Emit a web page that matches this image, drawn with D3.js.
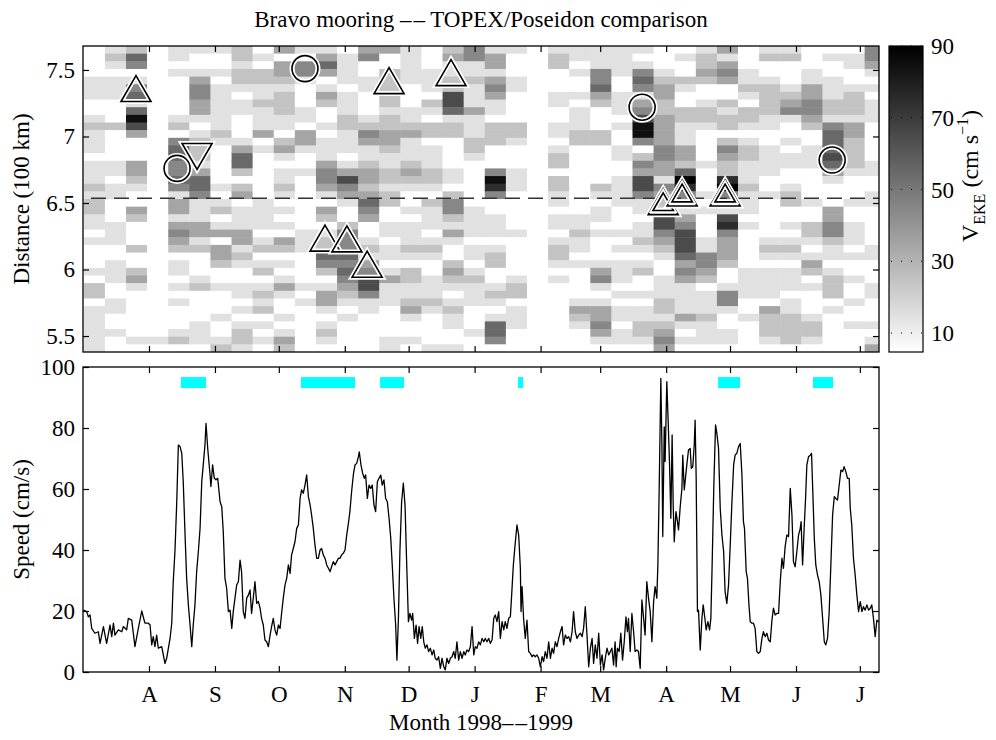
<!DOCTYPE html>
<html>
<head>
<meta charset="utf-8">
<script src="https://cdn.jsdelivr.net/npm/d3@7"></script>
<style>
    body { margin: 0; background: #fff; }
    svg text { font-family: "Liberation Serif", "Times New Roman", serif; fill: #000; }
</style>
</head>
<body>
<div id="chart"></div>
<script>
// record runs from 1 July 1998 to 10 July 1999 (UTC), days counted from the start
var startTime = Date.UTC(1998, 6, 1);
var endTime = Date.UTC(1999, 6, 10);

var distTicks = [5.5, 6, 6.5, 7, 7.5];
var speedTicks = [0, 20, 40, 60, 80, 100];
var ekeTicks = [10, 30, 50, 70, 90];

// TOPEX/Poseidon repeat cycles: one column per cycle
var cycleStartDay = 0.38;
var cycleDays = 9.9156;
// along-track bins, top bin first
var distTop = 7.68;
var distStep = 0.0575;
// one string per cycle, 40 bins top to bottom,
// each digit = V_EKE class in tens of cm/s (0 = below 10, value taken at class centre)
var ekeCols = [
    "0000111001 2111011121 2211010001 0220111111",
    "1210111000 2000011011 0001110011 1001100100",
    "2540145158 6300033210 0320002002 3100000010",
    "0000000000 0000000000 0000000000 0000000010",
    "1101000001 2045544541 3313432011 0101000120",
    "1001344331 0122213554 1113312000 1200001110",
    "1001011111 1210000010 1201303320 0100010012",
    "2212210110 0013552023 0111331210 0110101221",
    "0102211211 1301000000 1111012012 0121201010",
    "3033212221 1023101121 0101032010 1310010132",
    "1044100011 0331001000 0000111000 0101000000",
    "1353013200 1011134431 0320122542 0133101210",
    "0111101112 2111013643 1002444545 4321010000",
    "3400110001 2431123323 5430012134 6641100000",
    "3002222212 2332112212 2001101101 3111000011",
    "1111100011 2311123210 0101112102 2112310010",
    "0001110210 2201112210 2111012100 1112100001",
    "2311226651 2200001102 4421310023 2101211001",
    "4411211131 1122100000 0111101101 2111000100",
    "1331343110 2220004874 0011101220 0121015540",
    "1000110000 2210001110 0000100000 1220111000",
    "0000000000 0000000000 0000000000 0000000000",
    "1220001100 1101220221 1011012210 1000000000",
    "1101001011 1220000000 0011211010 0001321000",
    "1114453200 0220000021 0110100013 4101334310",
    "1111001110 1001100111 1000101011 1010110110",
    "1014541346 8840243664 1101121012 0010112210",
    "0001233223 3334433143 2166432100 1112212343",
    "0100210022 1113325974 2134666534 3111131010",
    "1223200122 1000010001 0100011443 2011121110",
    "3134300212 2024322794 2167433320 0144100110",
    "0001121022 1012211121 1101000001 1110010000",
    "1200122221 1001111001 0000012101 1110322210",
    "1200012341 0010110012 2001012101 1101122220",
    "0001133443 2001110000 1002210132 0100012210",
    "0100111221 4555653100 0334421101 2220100000",
    "0110012221 3322221000 1001110100 1001001000",
    "4431010111 0000011001 1000001100 0110001013"
];

// event markers on the altimeter section
var markerDay = [24.9, 44.2, 53.6, 104.3, 143.8, 172.9, 113.7, 124.0, 133.5, 262.7, 272.6, 281.5, 301.7, 352.0];
var markerDist = [7.36, 6.76, 6.85, 7.51, 7.42, 7.48, 6.236, 6.23, 6.04, 7.22, 6.51, 6.575, 6.575, 6.823];
var markerKind = ["up", "circle", "down", "circle", "up", "up", "up", "up", "up", "circle", "up2", "up2", "up2", "circle"];

// distance of the Bravo mooring along the track
var mooringDist = 6.535;

// periods flagged in cyan, [start day, end day]
var cyanPeriods = [[46.0, 57.8], [102.4, 127.8], [139.6, 150.8], [204.4, 206.8], [298.4, 308.7], [343.0, 352.4]];

// mooring current speed, [day, cm/s]
var speedSeries = [
    [0.2,20.3],[1.7,19.8],[2.5,18.1],[3.3,18.7],[4.1,14.3],[5.6,12.7],[7.2,13.2],[8.0,9.4],[9.6,14.9],[11.1,9.4],
    [12.7,15.4],[13.5,11.6],[14.3,16.0],[15.0,12.1],[16.6,13.8],[18.2,13.2],[19.0,14.9],[20.5,13.8],[21.3,17.6],[22.9,17.0],
    [24.4,8.3],[26.0,14.3],[27.6,20.0],[29.1,16.0],[30.7,16.0],[31.5,15.4],[32.3,8.9],[33.0,11.6],[33.8,8.3],[34.6,12.1],
    [35.4,7.8],[37.0,8.3],[38.5,2.8],[39.3,4.5],[40.9,11.0],[41.7,16.0],[42.4,29.6],[43.2,39.5],[44.0,54.8],[44.8,74.4],
    [45.6,73.9],[46.4,71.7],[47.1,62.4],[47.9,46.0],[48.7,30.7],[49.5,22.0],[50.3,15.4],[51.1,8.3],[51.8,15.4],[52.6,22.0],
    [53.4,32.9],[54.2,39.5],[55.0,47.1],[55.8,62.4],[56.5,67.9],[57.3,74.4],[57.8,81.5],[58.6,73.3],[59.7,64.6],[60.1,60.8],
    [60.9,67.9],[61.7,63.5],[62.5,63.0],[63.3,63.5],[64.4,55.8],[65.2,54.2],[65.9,46.0],[66.7,30.7],[67.5,27.4],[68.3,19.8],
    [69.1,20.3],[69.9,14.3],[70.6,19.8],[71.4,24.2],[72.2,28.5],[73.0,29.6],[73.8,36.7],[74.5,32.9],[75.3,19.8],[76.1,17.6],
    [76.9,24.2],[77.7,25.2],[78.5,26.9],[79.2,19.2],[80.0,24.2],[80.8,29.6],[81.6,22.5],[82.4,23.1],[83.2,20.9],[83.9,17.6],
    [84.7,15.4],[85.5,10.5],[86.3,9.9],[87.1,8.3],[87.9,12.1],[88.6,14.9],[89.4,17.6],[90.2,13.8],[91.0,12.1],[91.8,15.4],
    [92.6,14.3],[93.3,19.2],[94.1,24.2],[94.9,28.5],[95.7,30.7],[96.5,35.1],[97.3,32.3],[98.0,38.4],[98.8,40.5],[99.6,42.7],
    [100.4,47.1],[101.2,48.2],[102.0,56.9],[102.7,59.7],[103.5,58.6],[104.3,61.3],[105.1,64.6],[105.9,57.5],[106.7,54.8],[107.4,51.5],
    [108.2,47.1],[109.0,41.6],[109.8,37.3],[110.6,37.3],[111.4,40.0],[112.1,40.5],[112.9,38.4],[113.7,37.3],[114.5,35.1],[115.3,34.0],
    [116.1,32.9],[116.8,34.5],[117.6,36.2],[118.4,35.1],[119.2,36.2],[120.0,37.3],[120.8,37.3],[121.5,38.4],[122.3,38.9],[123.1,40.0],
    [123.9,44.9],[124.7,48.7],[125.4,52.6],[126.2,59.1],[127.0,64.6],[127.8,67.9],[128.6,68.4],[129.4,70.6],[129.8,72.2],[130.6,67.9],
    [131.4,65.1],[132.2,63.5],[132.8,64.6],[133.6,56.9],[134.4,61.3],[135.2,60.2],[135.9,61.3],[136.7,54.8],[137.5,52.6],[138.3,62.4],
    [139.1,63.5],[139.9,64.6],[140.6,61.3],[141.4,63.0],[142.2,56.9],[143.0,55.8],[143.8,50.4],[144.6,43.8],[145.3,35.1],[146.1,24.2],
    [146.9,15.4],[147.5,3.9],[148.2,17.6],[148.9,39.5],[149.7,55.8],[150.5,61.9],[151.3,54.8],[152.1,35.1],[152.9,16.5],[153.6,19.2],
    [154.4,17.0],[154.9,19.2],[155.7,11.0],[156.5,15.4],[157.2,9.4],[157.9,14.9],[158.7,11.0],[159.4,14.9],[160.1,9.9],[160.8,7.8],
    [161.6,8.9],[162.4,6.7],[163.2,7.8],[164.0,5.6],[164.8,7.2],[165.5,4.5],[166.3,3.9],[167.1,5.0],[167.9,1.2],[168.7,4.5],
    [169.5,1.7],[170.2,0.7],[171.0,4.5],[171.8,2.8],[172.6,4.5],[173.4,5.0],[174.2,6.7],[174.9,4.5],[175.7,9.9],[176.5,3.9],
    [177.3,6.7],[178.1,4.5],[178.9,6.7],[179.6,5.6],[180.4,7.2],[181.2,6.7],[182.0,8.3],[182.8,14.9],[183.6,5.6],[184.3,8.3],
    [185.1,7.8],[185.9,9.9],[186.7,8.9],[187.5,11.0],[188.3,9.9],[189.0,11.0],[189.8,9.9],[190.6,11.0],[191.4,9.4],[192.2,10.5],
    [193.0,17.6],[193.7,18.7],[194.5,16.5],[195.3,19.8],[196.1,11.0],[196.9,16.5],[197.7,13.8],[198.4,16.5],[199.2,14.3],[200.0,17.6],
    [200.8,18.1],[201.4,25.2],[202.2,35.1],[203.0,41.6],[203.9,48.2],[204.7,44.9],[205.5,34.0],[205.8,19.8],[206.3,28.0],[207.0,17.6],
    [207.8,11.0],[208.6,17.0],[209.4,6.7],[210.2,6.1],[211.0,5.0],[211.7,5.6],[212.5,5.0],[213.3,5.6],[214.1,4.5],[214.9,1.7],
    [215.7,5.0],[216.4,3.4],[217.2,6.7],[218.0,4.5],[218.8,9.9],[219.6,4.5],[220.4,7.8],[221.1,6.1],[221.9,9.9],[222.7,8.3],
    [223.5,11.0],[224.3,13.2],[225.1,14.9],[225.8,8.9],[226.6,12.1],[227.4,11.0],[228.2,11.6],[229.0,9.9],[229.8,13.2],[230.5,19.8],
    [231.3,13.2],[232.1,11.0],[232.9,12.1],[233.7,12.7],[234.5,11.6],[235.2,14.3],[236.0,21.4],[236.8,12.1],[237.6,1.7],[238.4,7.8],
    [239.2,11.0],[239.9,2.8],[240.7,8.9],[241.5,4.5],[242.3,12.7],[243.1,2.3],[243.9,5.6],[244.6,0.7],[245.4,4.5],[246.2,7.8],
    [247.0,5.6],[248.5,7.8],[249.3,2.3],[250.0,9.9],[250.5,1.7],[251.1,7.8],[251.9,6.7],[252.7,12.7],[253.5,3.9],[254.3,9.9],
    [255.1,18.1],[255.8,13.2],[256.3,17.6],[257.1,6.7],[257.9,19.2],[258.7,13.2],[259.4,6.7],[260.2,7.2],[261.0,6.7],[261.8,1.2],
    [262.6,23.6],[263.4,17.6],[264.1,12.1],[264.9,29.6],[265.7,24.2],[266.5,19.8],[267.3,9.9],[268.1,23.1],[268.8,28.0],[269.6,24.2],
    [270.1,35.1],[270.7,59.1],[271.5,96.3],[272.0,74.4],[272.4,44.4],[273.1,80.4],[273.5,69.0],[274.3,95.2],[275.1,78.8],[275.6,67.9],
    [276.2,50.4],[276.8,77.7],[277.3,54.8],[277.8,42.7],[278.6,52.6],[279.3,49.3],[279.8,46.6],[280.6,54.2],[281.4,60.2],[281.8,71.1],
    [282.5,59.7],[282.9,62.4],[283.7,67.9],[284.5,72.8],[285.3,73.3],[285.8,66.8],[286.5,67.3],[287.2,74.4],[287.6,82.6],[288.1,63.5],
    [288.7,19.8],[289.2,20.3],[290.0,7.2],[290.8,17.6],[291.4,22.0],[292.2,17.6],[292.8,13.8],[293.6,16.5],[294.4,13.8],[295.0,17.6],
    [295.6,35.1],[296.4,61.3],[297.2,81.0],[297.8,78.3],[298.6,73.3],[299.4,53.7],[300.2,44.9],[301.0,39.5],[301.7,26.3],[302.5,22.5],
    [303.3,28.5],[304.1,41.6],[304.9,55.8],[305.7,67.9],[306.4,71.1],[307.2,71.7],[308.0,73.9],[308.8,74.9],[309.6,64.6],[310.3,49.3],
    [310.8,47.1],[311.6,32.9],[312.2,30.7],[312.9,22.0],[313.5,16.5],[314.3,16.0],[315.0,16.0],[315.8,14.3],[316.6,6.7],[317.4,6.1],
    [318.2,6.7],[319.0,11.0],[319.7,13.2],[320.5,11.6],[321.3,12.7],[322.1,10.5],[322.9,9.9],[323.7,17.0],[324.4,20.9],[325.2,18.7],
    [326.0,19.2],[326.8,19.2],[327.6,29.6],[328.4,37.3],[329.1,34.0],[329.9,41.1],[330.7,44.9],[331.5,44.4],[332.3,60.2],[333.1,51.5],
    [333.8,36.2],[334.6,34.5],[335.4,39.5],[336.2,44.9],[337.0,47.1],[337.4,49.3],[338.1,35.1],[338.9,48.2],[339.5,56.9],[340.1,67.9],
    [340.9,70.6],[341.7,71.1],[342.3,71.7],[342.9,59.1],[343.6,43.8],[344.3,35.1],[345.1,31.8],[345.9,29.6],[346.7,25.2],[347.5,17.6],
    [348.3,9.9],[349.0,8.9],[349.8,11.0],[350.6,19.8],[351.4,35.6],[352.2,51.5],[353.0,57.5],[353.7,56.9],[354.5,56.4],[355.3,61.3],
    [356.1,66.2],[356.9,65.7],[357.6,67.3],[358.4,65.7],[359.2,63.5],[360.0,63.5],[360.5,53.7],[361.2,48.2],[362.0,37.3],[362.8,31.8],
    [363.6,25.2],[364.4,19.8],[365.2,23.1],[366.0,19.8],[366.7,21.4],[367.5,20.3],[368.3,22.0],[369.1,20.3],[369.9,20.9],[370.6,22.0],
    [371.4,17.6],[372.2,11.6],[373.0,17.0],[373.8,16.5]
];

function dayDate(d) {
    return new Date(startTime + d * 864e5);
}

function init() {
    var w = 996, h = 740;
    var left = 83, right = 879;
    var topY0 = 46, topY1 = 352;   // upper panel
    var botY0 = 367, botY1 = 672;  // lower panel
    var fs = 23;

    var svg = d3.select("#chart").append("svg")
                .attr("width", w)
                .attr("height", h);

    var x = d3.scaleUtc()
              .domain([new Date(startTime), new Date(endTime)])
              .range([left, right]);
    var yDist = d3.scaleLinear().domain([5.38, 7.68]).range([topY1, topY0]);
    var ySpeed = d3.scaleLinear().domain([0, 100]).range([botY1, botY0]);
    var gray = d3.scaleLinear().domain([5, 90]).range(["#ffffff", "#000000"]).clamp(true);

    var months = d3.utcMonth.range(new Date(Date.UTC(1998, 7, 1)), new Date(endTime));
    var monthLetter = function(d) { return d3.utcFormat("%b")(d).charAt(0); };

    // clip paths for both panels
    var defs = svg.append("defs");
    defs.append("clipPath").attr("id", "clipTop")
        .append("rect").attr("x", left).attr("y", topY0)
        .attr("width", right - left).attr("height", topY1 - topY0);
    defs.append("clipPath").attr("id", "clipBot")
        .append("rect").attr("x", left).attr("y", botY0)
        .attr("width", right - left).attr("height", botY1 - botY0);

    // ---------- upper panel: V_EKE along track ----------
    var cells = [];
    ekeCols.forEach(function(s, k) {
        var digits = s.replace(/ /g, "");
        for (var r = 0; r < digits.length; r++) {
            var c = +digits[r];
            cells.push({ k: k, r: r, v: c === 0 ? 0 : c * 10 + 5 });
        }
    });

    var cellG = svg.append("g").attr("clip-path", "url(#clipTop)");
    cellG.selectAll("rect")
        .data(cells)
        .enter()
        .append("rect")
        .attr("x", function(d) { return x(dayDate(cycleStartDay + d.k * cycleDays)); })
        .attr("width", function(d) {
            return x(dayDate(cycleStartDay + (d.k + 1) * cycleDays)) - x(dayDate(cycleStartDay + d.k * cycleDays)) + 0.5;
        })
        .attr("y", function(d) { return yDist(distTop - d.r * distStep); })
        .attr("height", function(d) { return yDist(distTop - (d.r + 1) * distStep) - yDist(distTop - d.r * distStep) + 0.5; })
        .attr("fill", function(d) { return gray(d.v); });

    // mooring position
    cellG.append("line")
        .attr("x1", left).attr("x2", right)
        .attr("y1", yDist(mooringDist)).attr("y2", yDist(mooringDist))
        .attr("stroke", "#333")
        .attr("stroke-width", 1.5)
        .attr("stroke-dasharray", "15,8")
        .attr("stroke-dashoffset", -8);

    // markers
    function markerPath(kind, cx, cy, s) {
        var hw = 15 * s, hh = 13 * s;
        if (kind === "down") {
            return "M" + (cx - hw) + "," + (cy - hh) + "L" + (cx + hw) + "," + (cy - hh) + "L" + cx + "," + (cy + hh) + "Z";
        }
        return "M" + cx + "," + (cy - hh) + "L" + (cx + hw) + "," + (cy + hh) + "L" + (cx - hw) + "," + (cy + hh) + "Z";
    }
    var mk = svg.append("g");
    markerDay.forEach(function(d, i) {
        var cx = x(dayDate(d)), cy = yDist(markerDist[i]), kind = markerKind[i];
        var layers = kind === "up2" ? [1, 0.68] : [1];
        layers.forEach(function(s) {
            [["#fff", 5], ["#000", 1.6]].forEach(function(st) {
                var el = kind === "circle"
                    ? mk.append("circle").attr("cx", cx).attr("cy", cy).attr("r", 13)
                    : mk.append("path").attr("d", markerPath(kind, cx, cy, s));
                el.attr("fill", "none").attr("stroke", st[0]).attr("stroke-width", st[1])
                  .attr("stroke-linejoin", "miter");
            });
        });
    });

    // axes of the upper panel (ticks point inward)
    svg.append("g")
        .attr("transform", "translate(" + left + ",0)")
        .call(d3.axisLeft(yDist).tickValues(distTicks).tickSize(-6).tickPadding(8)
              .tickFormat(function(d) { return d; }))
        .call(styleAxis);
    svg.append("g")
        .attr("transform", "translate(" + right + ",0)")
        .call(d3.axisRight(yDist).tickValues(distTicks).tickSize(-6).tickFormat(""))
        .call(styleAxis);
    svg.append("g")
        .attr("transform", "translate(0," + topY0 + ")")
        .call(d3.axisTop(x).tickValues(months).tickSize(-6).tickFormat(""))
        .call(styleAxis);
    svg.append("g")
        .attr("transform", "translate(0," + topY1 + ")")
        .call(d3.axisBottom(x).tickValues(months).tickSize(-6).tickFormat(""))
        .call(styleAxis);
    svg.append("rect")
        .attr("x", left).attr("y", topY0)
        .attr("width", right - left).attr("height", topY1 - topY0)
        .attr("fill", "none").attr("stroke", "#000").attr("stroke-width", 1.3);

    // ---------- colour bar ----------
    var cbX = 889, cbW = 34;
    var cbScale = d3.scaleLinear().domain([4.7, 90]).range([topY1, topY0]);
    var grad = defs.append("linearGradient").attr("id", "ekeGrad")
                   .attr("x1", 0).attr("y1", 1).attr("x2", 0).attr("y2", 0);
    grad.append("stop").attr("offset", "0%").attr("stop-color", gray(4.7));
    grad.append("stop").attr("offset", "100%").attr("stop-color", gray(90));
    svg.append("rect")
        .attr("x", cbX).attr("y", topY0)
        .attr("width", cbW).attr("height", topY1 - topY0)
        .attr("fill", "url(#ekeGrad)")
        .attr("stroke", "#000").attr("stroke-width", 1.2);
    svg.selectAll(".cbtick")
        .data(ekeTicks)
        .enter()
        .append("line")
        .attr("x1", cbX + 2).attr("x2", cbX + cbW)
        .attr("y1", function(d) { return cbScale(d); })
        .attr("y2", function(d) { return cbScale(d); })
        .attr("stroke", "#000").attr("stroke-width", 1)
        .attr("stroke-dasharray", "1,9");
    svg.selectAll(".cblabel")
        .data(ekeTicks)
        .enter()
        .append("text")
        .attr("x", cbX + cbW + 8)
        .attr("y", function(d) { return cbScale(d); })
        .attr("dy", "0.35em")
        .attr("font-size", fs)
        .text(function(d) { return d; });
    var cbLab = svg.append("text")
        .attr("transform", "translate(978,176) rotate(-90)")
        .attr("text-anchor", "middle")
        .attr("font-size", 24);
    cbLab.append("tspan").text("V");
    cbLab.append("tspan").attr("dy", 7).attr("font-size", 16).text("EKE");
    cbLab.append("tspan").attr("dy", -7).text(" (cm s");
    cbLab.append("tspan").attr("dy", -10).attr("font-size", 16).text("\u22121");
    cbLab.append("tspan").attr("dy", 10).text(")");

    // ---------- lower panel: mooring speed ----------
    var botG = svg.append("g").attr("clip-path", "url(#clipBot)");
    botG.selectAll(".cyan")
        .data(cyanPeriods)
        .enter()
        .append("rect")
        .attr("x", function(d) { return x(dayDate(d[0])); })
        .attr("width", function(d) { return x(dayDate(d[1])) - x(dayDate(d[0])); })
        .attr("y", ySpeed(96.7))
        .attr("height", ySpeed(93.1) - ySpeed(96.7))
        .attr("fill", "#00ffff");

    var line = d3.line()
                 .x(function(d) { return x(dayDate(d[0])); })
                 .y(function(d) { return ySpeed(d[1]); });
    botG.append("path")
        .datum(speedSeries)
        .attr("d", line)
        .attr("fill", "none")
        .attr("stroke", "#000")
        .attr("stroke-width", 1.3)
        .attr("stroke-linejoin", "round");

    svg.append("g")
        .attr("transform", "translate(" + left + ",0)")
        .call(d3.axisLeft(ySpeed).tickValues(speedTicks).tickSize(-6).tickPadding(8))
        .call(styleAxis);
    svg.append("g")
        .attr("transform", "translate(" + right + ",0)")
        .call(d3.axisRight(ySpeed).tickValues(speedTicks).tickSize(-6).tickFormat(""))
        .call(styleAxis);
    svg.append("g")
        .attr("transform", "translate(0," + botY0 + ")")
        .call(d3.axisTop(x).tickValues(months).tickSize(-6).tickFormat(""))
        .call(styleAxis);
    svg.append("g")
        .attr("transform", "translate(0," + botY1 + ")")
        .call(d3.axisBottom(x).tickValues(months).tickSize(-6).tickPadding(14).tickFormat(monthLetter))
        .call(styleAxis);
    svg.append("rect")
        .attr("x", left).attr("y", botY0)
        .attr("width", right - left).attr("height", botY1 - botY0)
        .attr("fill", "none").attr("stroke", "#000").attr("stroke-width", 1.3);

    // ---------- titles and axis labels (double dash drawn as two en dashes) ----------
    var title = svg.append("text")
        .attr("x", (left + right) / 2).attr("y", 27)
        .attr("text-anchor", "middle").attr("font-size", 23);
    title.append("tspan").text("Bravo mooring \u2013");
    title.append("tspan").attr("dx", 2).text("\u2013 TOPEX/Poseidon comparison");

    var xlab = svg.append("text")
        .attr("x", (left + right) / 2).attr("y", 730)
        .attr("text-anchor", "middle").attr("font-size", fs);
    xlab.append("tspan").text("Month 1998\u2013");
    xlab.append("tspan").attr("dx", 2).text("\u20131999");

    svg.append("text")
        .attr("transform", "translate(29," + (topY0 + topY1) / 2 + ") rotate(-90)")
        .attr("text-anchor", "middle").attr("font-size", fs)
        .text("Distance (100 km)");
    svg.append("text")
        .attr("transform", "translate(29," + (botY0 + botY1) / 2 + ") rotate(-90)")
        .attr("text-anchor", "middle").attr("font-size", fs)
        .text("Speed (cm/s)");

    function styleAxis(g) {
        g.select(".domain").remove();
        g.selectAll(".tick line").attr("stroke", "#000").attr("stroke-width", 1.2);
        g.selectAll(".tick text")
            .attr("font-size", fs)
            .attr("font-family", "Liberation Serif, serif")
            .attr("fill", "#000");
    }
}

window.onload = init;
</script>
</body>
</html>
